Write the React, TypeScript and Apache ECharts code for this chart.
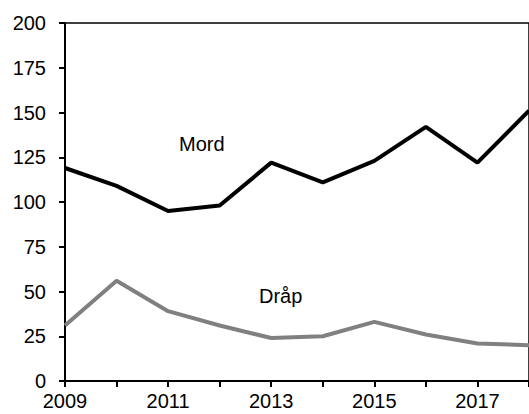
import React, { useEffect, useRef } from "react";
import * as echarts from "echarts";

const years = ["2009", "2010", "2011", "2012", "2013", "2014", "2015", "2016", "2017", "2018"];
const mord = [119, 109, 95, 98, 122, 111, 123, 142, 122, 151];
const drap = [31, 56, 39, 31, 24, 25, 33, 26, 21, 20];
const yTicks = { min: 0, max: 200, interval: 25 };

const FONT = "'Liberation Sans', Arial, sans-serif";

export default function App() {
  const ref = useRef<HTMLDivElement>(null);
  useEffect(() => {
    if (!ref.current) return;
    const chart = echarts.init(ref.current, undefined, { renderer: "svg" });
    chart.setOption({
      animation: false,
      backgroundColor: "#fff",
      grid: {
        left: 65,
        top: 23,
        bottom: 33,
        right: -4,
        show: true,
        borderColor: "#000",
        borderWidth: 1.5,
        containLabel: false,
      },
      xAxis: {
        type: "category",
        data: years,
        boundaryGap: false,
        axisLine: { lineStyle: { color: "#000", width: 2 } },
        axisTick: { show: true, interval: 0, length: 6, lineStyle: { color: "#000", width: 2 } },
        axisLabel: {
          interval: 1,
          color: "#000",
          fontFamily: FONT,
          fontSize: 20,
          margin: 10,
        },
        splitLine: { show: false },
      },
      yAxis: {
        type: "value",
        min: yTicks.min,
        max: yTicks.max,
        interval: yTicks.interval,
        axisLine: { show: true, lineStyle: { color: "#000", width: 2 } },
        axisTick: { show: true, length: 6, lineStyle: { color: "#000", width: 2 } },
        axisLabel: {
          color: "#000",
          fontFamily: FONT,
          fontSize: 20,
          margin: 19,
        },
        splitLine: { show: false },
      },
      series: [
        {
          name: "Mord",
          type: "line",
          data: mord,
          symbol: "none",
          lineStyle: { color: "#000", width: 4 },
        },
        {
          name: "Dråp",
          type: "line",
          data: drap,
          symbol: "none",
          lineStyle: { color: "#808080", width: 4 },
        },
      ],
      graphic: [
        {
          type: "text",
          left: 179,
          top: 134,
          style: { text: "Mord", fill: "#000", font: `20px ${FONT}` },
        },
        {
          type: "text",
          left: 259,
          top: 286,
          style: { text: "Dråp", fill: "#000", font: `20px ${FONT}` },
        },
      ],
    });
    return () => chart.dispose();
  }, []);
  return (
    <div
      ref={ref}
      style={{ position: "fixed", left: 0, top: 0, width: 529, height: 414 }}
    />
  );
}
